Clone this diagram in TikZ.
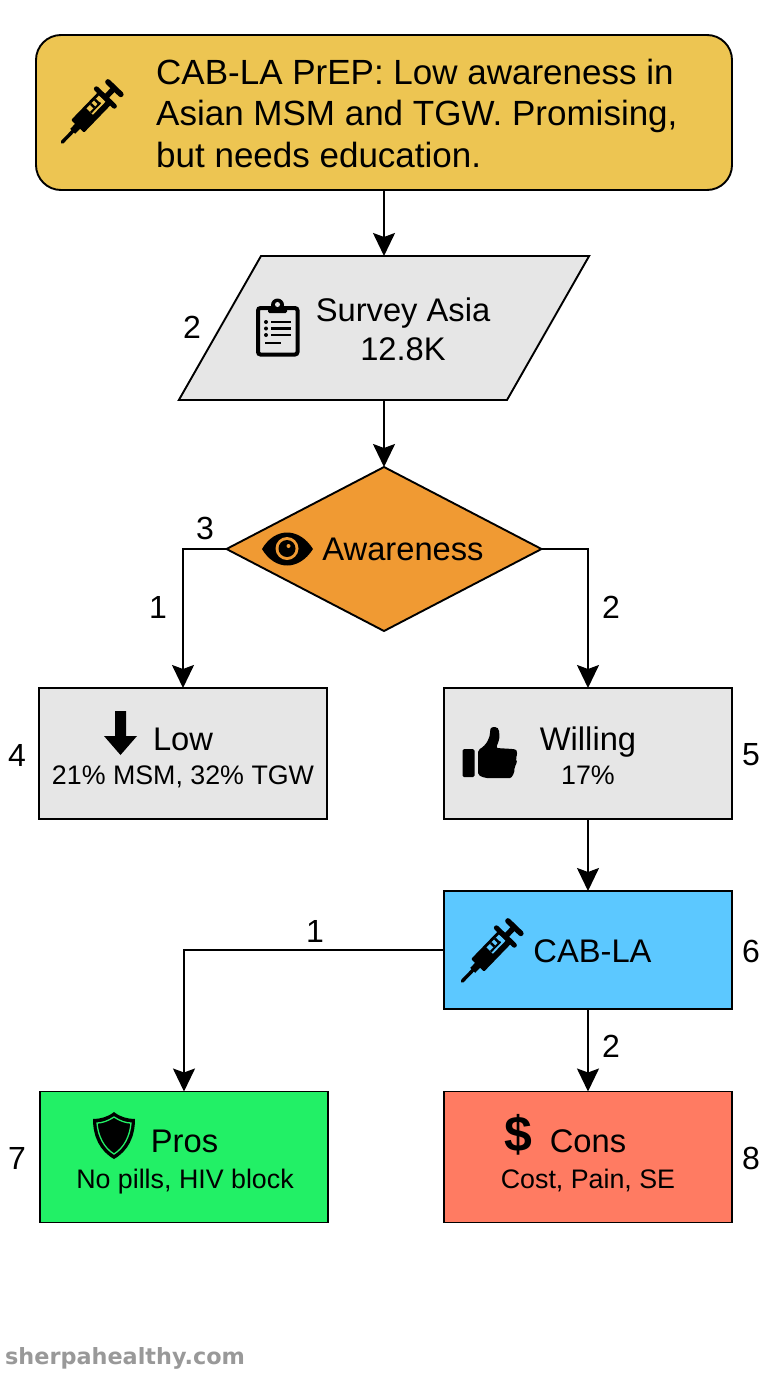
\documentclass[tikz,border=0pt]{standalone}
\usepackage{fontspec}
\setmainfont{Liberation Sans}
\newfontfamily\wmfont{DejaVu Sans}
\usetikzlibrary{shapes.geometric,arrows.meta}
\definecolor{cyellow}{HTML}{EDC552}
\definecolor{cgray}{HTML}{E6E6E6}
\definecolor{corange}{HTML}{F09A33}
\definecolor{cblue}{HTML}{5CC8FF}
\definecolor{cgreen}{HTML}{22F066}
\definecolor{cred}{HTML}{FF7B62}
\definecolor{cwm}{HTML}{999999}
\newcommand{\fs}[1]{\fontsize{#1}{#1}\selectfont}
\tikzset{
 x=1pt,y=-1pt,
 box/.style={draw=black,line width=1.9pt,inner sep=0pt,outer sep=0pt,minimum width=288pt,minimum height=131pt},
 main/.style={font=\fs{32.7},anchor=base,inner sep=0pt},
 sub/.style={font=\fs{26.8},anchor=base,inner sep=0pt},
 toptext/.style={font=\fs{35},anchor=base west,inner sep=0pt},
 num/.style={font=\fs{32}},
 conn/.style={draw=black,line width=1.9pt,-{Stealth[length=23pt,width=22pt,inset=4pt]}},
 pics/syringe/.style={code={
   \draw[line width=3.4pt,line cap=round] (-37,0)--(-18,0);
   \fill (-22,-3.5) rectangle (-12,3.5);
   \fill[rounded corners=1pt] (-15,-9) rectangle (25,9);
   \fill[#1] (4,-6) rectangle (22,3);
   \fill (9,-6) rectangle (11.5,-1);\fill (15,-6) rectangle (17.5,-1);
   \fill (4,-1) rectangle (18,1);
   \draw[line width=5pt,line cap=round] (25,-12.5)--(25,12.5);
   \fill (25,-2.8) rectangle (38,2.8);
   \draw[line width=5.5pt,line cap=round] (38,-9)--(38,9);
 }}
}
\begin{document}
\begin{tikzpicture}
\useasboundingbox (0,0) rectangle (768,1376);
\fill[white] (0,0) rectangle (768,1376);

% boxes
\node[box,fill=cyellow,rounded corners=25pt,minimum width=696pt,minimum height=155pt] (top) at (384,112.5) {};
\node[trapezium,trapezium left angle=60.3,trapezium right angle=119.7,draw=black,fill=cgray,line width=1.9pt,inner xsep=123pt,inner ysep=72pt,outer sep=0pt] (survey) at (384,328) {};
\node[diamond,draw=black,fill=corange,line width=1.9pt,inner sep=0pt,outer sep=0pt,minimum width=315pt,minimum height=164pt] (aware) at (384,549) {};
\node[box,fill=cgray] (low) at (183,753.5) {};
\node[box,fill=cgray] (will) at (588,753.5) {};
\node[box,fill=cblue,minimum height=118pt] (cab) at (588,950) {};
\node[box,fill=cgreen] (pros) at (184,1157) {};
\node[box,fill=cred] (cons) at (588,1157) {};

% connectors
\draw[conn] (top.south) -- (survey.north);
\draw[conn] (survey.south) -- (aware.north);
\draw[conn] (aware.west) -| (low.north);
\draw[conn] (aware.east) -| (will.north);
\draw[conn] (will.south) -- (cab.north);
\draw[conn] (cab.west) -| (pros.north);
\draw[conn] (cab.south) -- (cons.north);

% texts
\node[toptext] (toptxt1) at (156,84) {CAB-LA PrEP: Low awareness in};
\node[toptext] (toptxt2) at (156,125.5) {Asian MSM and TGW. Promising,};
\node[toptext] (toptxt3) at (156,167) {but needs education.};
\node[main] (s1) at (403,321) {Survey Asia};
\node[main] (s2) at (403,360) {12.8K};
\node[main] (a1) at (403,560) {Awareness};
\node[main] (l1) at (183,750) {Low};
\node[sub] (l2) at (183,784) {21\% MSM, 32\% TGW};
\node[main] (w1) at (588,750) {Willing};
\node[sub] (w2) at (588,784) {17\%};
\node[main] (c1) at (592.5,962) {CAB-LA};
\node[main] (p1) at (184.5,1152) {Pros};
\node[sub] (p2) at (185,1188) {No pills, HIV block};
\node[main] (k1) at (588,1152) {Cons};
\node[sub] (k2) at (588,1188) {Cost, Pain, SE};

% numbers
\node[num] (n1) at (192,327) {2};
\node[num] (n2) at (205,528) {3};
\node[num] (n3) at (158,607) {1};
\node[num] (n4) at (611,607) {2};
\node[num] (n5) at (17,755) {4};
\node[num] (n6) at (751,755) {5};
\node[num] (n7) at (315,931) {1};
\node[num] (n8) at (751,951) {6};
\node[num] (n9) at (611,1046) {2};
\node[num] (n10) at (17,1158) {7};
\node[num] (n11) at (751,1158) {8};

% icons
\pic[rotate=46] at (88,115.5) {syringe=cyellow};
\pic[rotate=46] at (488,954.5) {syringe=cblue};

% clipboard
\draw[line width=4pt,rounded corners=2.5pt] (258,308) rectangle (297.5,354.5);
\fill[rounded corners=1.5pt] (268,306) rectangle (287,313);
\fill (277.5,305) circle (6.5pt);
\fill[cgray] (277.5,304.5) circle (2.5pt);
\foreach \yy in {322,328.5,335}{\fill (266,\yy) circle (2pt);\fill (270.5,\yy-1.4) rectangle (291,\yy+1.4);}
\fill (264.5,341.5) rectangle (280.5,344.2);

% eye
\fill (262,549) .. controls (275,527) and (299,527) .. (313,549) .. controls (299,571) and (275,571) .. (262,549) -- cycle;
\fill[corange] (287,548.5) circle (11.5pt);
\fill (287,548.5) circle (8.5pt);
\fill[corange] (288.5,546) circle (2pt);

% down arrow
\fill (115,711) -- (126,711) -- (126,736) -- (137,736) -- (120.5,755) -- (104,736) -- (115,736) -- cycle;

% thumb
\fill[rounded corners=1.5pt] (462.5,749) rectangle (474.5,777);
\fill[rounded corners=2pt] (478,750) .. controls (487,745) and (490,737) .. (490,731) .. controls (491,726) and (499,726) .. (499,733) .. controls (500,738) and (498,743) .. (496,748) -- (513,749) .. controls (518,750) and (517,756) .. (515,758) .. controls (518,762) and (515,766) .. (514,767) .. controls (515,772) and (512,778) .. (508,778) -- (485,778) -- (478,775) -- cycle;

% shield
\fill (114,1112) .. controls (120,1117) and (128,1119) .. (135,1119) .. controls (135,1137) and (128,1151) .. (114,1159) .. controls (100,1151) and (93,1137) .. (93,1119) .. controls (100,1119) and (108,1117) .. (114,1112) -- cycle;
\draw[cgreen,line width=1.3pt] (114,1117) .. controls (120,1121) and (126,1123) .. (131,1123) .. controls (130,1136) and (124,1148) .. (114,1154) .. controls (104,1148) and (98,1136) .. (97,1123) .. controls (102,1123) and (108,1121) .. (114,1117) -- cycle;

% dollar
\node[font=\fs{50}\bfseries] (dol) at (518.5,1135) {\$};

% watermark
\node[anchor=west,font=\wmfont\fs{22.35}\bfseries,text=cwm,inner sep=0pt] (wm) at (5,1358) {sherpahealthy.com};
\end{tikzpicture}
\end{document}
